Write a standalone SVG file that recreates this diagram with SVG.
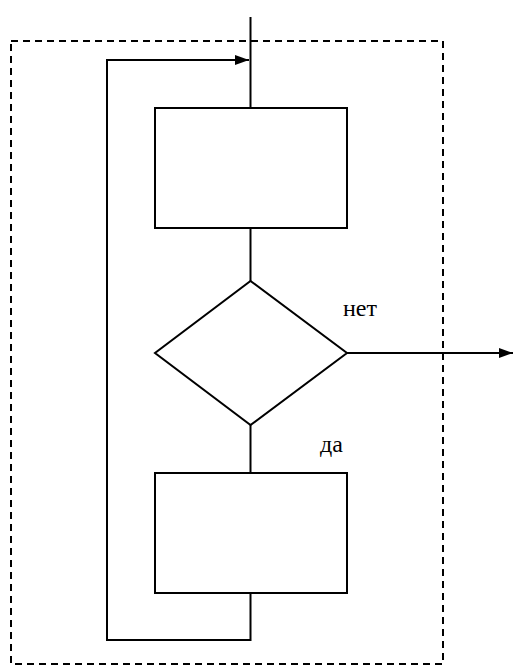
<svg xmlns="http://www.w3.org/2000/svg" width="515" height="666" viewBox="0 0 515 666">
<style>
.s{fill:none;stroke:#000;stroke-width:2}
.n{fill:#fff;stroke:#000;stroke-width:2}
.d{fill:none;stroke:#000;stroke-width:2;stroke-dasharray:7 5}
.t{font-family:"Liberation Serif","Times New Roman",serif;font-size:24px;fill:#000}
</style>
<defs>
<marker id="ah" markerWidth="14" markerHeight="10" refX="14" refY="5" orient="auto" markerUnits="userSpaceOnUse">
<path d="M0,0 L14,5 L0,10 Z" fill="#000"/>
</marker>
</defs>
<rect class="d" x="11" y="41" width="432" height="623"/>
<g id="connectors">
<line class="s" x1="250.5" y1="17" x2="250.5" y2="108"/>
<polyline class="s" points="250.5,593 250.5,640 107,640 107,60 249,60" marker-end="url(#ah)"/>
<line class="s" x1="250.5" y1="228" x2="250.5" y2="281"/>
<line class="s" x1="250.5" y1="425" x2="250.5" y2="473"/>
<line class="s" x1="347" y1="353" x2="513" y2="353" marker-end="url(#ah)"/>
</g>
<g id="process1"><rect class="n" x="155" y="108" width="192" height="120"/></g>
<g id="decision"><polygon class="n" points="250.5,281 347,353 250.5,425 155,353"/></g>
<g id="process2"><rect class="n" x="155" y="473" width="192" height="120"/></g>
<g id="label-no"><text class="t" x="343" y="316">нет</text></g>
<g id="label-yes"><text class="t" x="320" y="452">да</text></g>
</svg>
